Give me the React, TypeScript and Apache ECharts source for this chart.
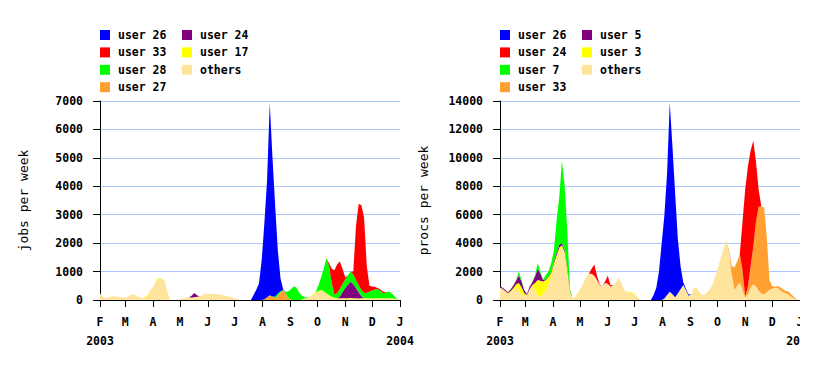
import React, { useEffect, useRef } from "react";
import * as echarts from "echarts";

const MONO = '"DejaVu Sans Mono", "Liberation Mono", monospace';
const DAY_MS = 86400000;
const FIRST_DAY = Date.UTC(2003, 1, 1);
const TOTAL_DAYS = 335; // 2003-02-01 .. 2004-01-01
const STEP_DAYS = 3;
const SAMPLES = 112;
const dayCategories = Array.from({ length: TOTAL_DAYS }, (_, d) =>
  new Date(FIRST_DAY + d * DAY_MS).toISOString().slice(0, 10)
);

const monthStartDays = [0, 28, 59, 89, 120, 150, 181, 212, 242, 273, 303, 334];
const monthLabels = ["F", "M", "A", "M", "J", "J", "A", "S", "O", "N", "D", "J"];
const yearLabels = ["2003", "", "", "", "", "", "", "", "", "", "", "2004"];

// ---------- left panel: jobs per week (3-day samples from 2003-02-01) ----------
const leftOthers = [
  230, 120, 60, 90, 120, 130, 120, 110, 95, 85,
  90, 160, 210, 170, 130, 90, 60, 90, 180, 380,
  500, 680, 740, 760, 680, 300, 0, 0, 0, 20,
  40, 70, 80, 85, 90, 100, 110, 120, 170, 210,
  215, 215, 215, 210, 200, 180, 160, 140, 120, 100,
  60, 20, 0, 0, 0, 0, 0, 0, 0, 0,
  0, 0, 0, 0, 0, 0, 0, 0, 0, 0,
  0, 0, 0, 0, 0, 20, 50, 90, 130, 180,
  230, 290, 320, 280, 210, 150, 80, 50, 40, 45,
  40, 35, 40, 50, 45, 40, 35, 40, 45, 40,
  40, 35, 40, 45, 40, 40, 35, 40, 40, 35,
  20, 0,
];
const leftUser17: [number, number[]][] = [
  [17, [40, 30]],
  [21, [40, 30]],
  [79, [30, 30, 30, 35, 30, 30, 25, 30, 25, 20, 20, 20, 25, 20, 20, 20, 20, 20, 20, 20, 20, 20, 20, 20, 20, 20, 20, 20, 20, 20, 20, 10]],
];
const leftUser24: [number, number[]][] = [
  [34, [60, 150, 60]],
  [89, [60, 220, 360, 480, 570, 500, 360, 220, 70]],
];
const leftUser27: [number, number[]][] = [[61, [30, 100, 170, 120, 60, 150, 270, 350, 220, 60]]];
const leftUser28: [number, number[]][] = [[65, [
  60, 80, 40, 0, 60, 250, 400, 480, 420, 250,
  130, 50, 10, 0, 0, 0, 180, 430, 790, 1230,
  1020, 490, 120, 175, 260, 280, 300, 330, 350, 340,
  280, 240, 230, 190, 190, 240, 280, 310, 320, 270,
  180, 200, 240, 200, 100, 20,
]]];
const leftUser33: [number, number[]][] = [[85, [
  100, 500, 850, 1015, 970, 540, 80, 0, 0, 100,
  1900, 2860, 2980, 2650, 950, 200, 140, 100, 40, 50, 60, 20,
]]];
const leftUser26: [number, number[]][] = [[57, [180, 360, 580, 1400, 2670, 4100, 6750, 4900, 3200, 1500, 450, 20]]];

// ---------- right panel: procs per week ----------
const rightOthers = [
  900, 780, 600, 440, 550, 700, 850, 700, 400, 300,
  330, 700, 1000, 700, 300, 250, 400, 700, 1100, 1600,
  2300, 2900, 3500, 3700, 3200, 1800, 400, 100, 250, 560,
  850, 1200, 1600, 1850, 1850, 1700, 1400, 1050, 950, 1200,
  1150, 950, 1050, 1250, 1550, 1250, 700, 560, 520, 480,
  400, 150, 0, 0, 0, 0, 0, 0, 0, 0,
  0, 100, 350, 580, 400, 200, 450, 750, 1050, 700,
  300, 400, 900, 850, 550, 350, 400, 550, 800, 1150,
  1700, 2350, 3000, 3650, 4200, 3300, 1800, 700, 1000, 1250,
  700, 150, 400, 850, 1100, 950, 650, 450, 400, 550,
  700, 800, 870, 850, 700, 550, 480, 380, 250, 120,
  20, 0,
];
const rightUser3: [number, number[]][] = [
  [2, [20, 40, 80, 150, 250, 500, 500, 200, 30, 50, 50, 500, 1100, 1100, 900, 700, 500, 300, 250, 250, 200, 150, 200, 300, 100]],
  [47, [30, 50, 60, 60, 40]],
];
const rightUser5: [number, number[]][] = [[0, [85, 90, 80, 60, 120, 180, 270, 550, 400, 180, 60, 180, 200, 450, 800, 500, 100, 60, 50, 80, 120, 200, 200, 150, 150, 150, 50]]];
const rightUser33: [number, number[]][] = [[85, [200, 600, 1600, 1700, 2000, 1400, 100, 540, 1500, 2650, 4560, 5920, 6120, 6120, 3900, 700, 185, 70, 130, 190, 200, 150, 210, 170, 115, 30]]];
const rightUser7: [number, number[]][] = [[4, [20, 25, 30, 250, 100, 20, 0, 10, 40, 100, 400, 150, 50, 300, 350, 600, 830, 2250, 3370, 5800, 4450, 2450, 150]]];
const rightUser24: [number, number[]][] = [
  [34, [350, 800, 300, 50, 0, 100, 550, 100]],
  [90, [3400, 7550, 8460, 8150, 7450, 4220, 1170]],
];
const rightUser26: [number, number[]][] = [[57, [350, 870, 2000, 3990, 5850, 8550, 13300, 10400, 7300, 3850, 1650, 200, 100, 80]]];

function place(segments: [number, number[]][]): number[] {
  const out = new Array(SAMPLES).fill(0);
  segments.forEach(([start, vals]) => vals.forEach((v, k) => { out[start + k] = v; }));
  return out;
}

type SeriesDef = { name: string; color: string; values: number[] };
type PanelCfg = {
  gridLeft: number;
  yMax: number;
  yInterval: number;
  yName: string;
  col1: string[];
  col2: string[];
  stack: SeriesDef[]; // bottom to top
};

const BLUE = "#0000ff", RED = "#ff0000", GREEN = "#00ff00", ORANGE = "#ffa030",
  PURPLE = "#800080", YELLOW = "#ffff00", OTHERS = "#ffe49e";

const leftCfg: PanelCfg = {
  gridLeft: 100, yMax: 7000, yInterval: 1000, yName: "jobs per week",
  col1: ["user 26", "user 33", "user 28", "user 27"],
  col2: ["user 24", "user 17", "others"],
  stack: [
    { name: "others", color: OTHERS, values: leftOthers },
    { name: "user 17", color: YELLOW, values: place(leftUser17) },
    { name: "user 24", color: PURPLE, values: place(leftUser24) },
    { name: "user 27", color: ORANGE, values: place(leftUser27) },
    { name: "user 28", color: GREEN, values: place(leftUser28) },
    { name: "user 33", color: RED, values: place(leftUser33) },
    { name: "user 26", color: BLUE, values: place(leftUser26) },
  ],
};

const rightCfg: PanelCfg = {
  gridLeft: 90, yMax: 14000, yInterval: 2000, yName: "procs per week",
  col1: ["user 26", "user 24", "user 7", "user 33"],
  col2: ["user 5", "user 3", "others"],
  stack: [
    { name: "others", color: OTHERS, values: rightOthers },
    { name: "user 3", color: YELLOW, values: place(rightUser3) },
    { name: "user 5", color: PURPLE, values: place(rightUser5) },
    { name: "user 33", color: ORANGE, values: place(rightUser33) },
    { name: "user 7", color: GREEN, values: place(rightUser7) },
    { name: "user 24", color: RED, values: place(rightUser24) },
    { name: "user 26", color: BLUE, values: place(rightUser26) },
  ],
};

function legendOf(data: string[], left: number) {
  return {
    data,
    left,
    top: 29,
    orient: "vertical",
    icon: "rect",
    itemWidth: 10,
    itemHeight: 10,
    itemGap: 5.4,
    padding: 0,
    selectedMode: false,
    textStyle: {
      fontFamily: MONO, fontSize: 11.5, fontWeight: "bold", color: "#000",
      lineHeight: 12, padding: [0, 0, 0, 3],
    },
  };
}

const isMonthStart = (index: number) => monthStartDays.indexOf(index) >= 0;

function buildOption(cfg: PanelCfg) {
  return {
    animation: false,
    textStyle: { fontFamily: MONO },
    grid: {
      left: cfg.gridLeft, top: 101, width: 300, height: 199,
      containLabel: false, outerBoundsMode: "none",
    },
    legend: [legendOf(cfg.col1, cfg.gridLeft), legendOf(cfg.col2, cfg.gridLeft + 82)],
    xAxis: {
      type: "category",
      data: dayCategories,
      boundaryGap: false,
      axisLine: { show: true, lineStyle: { color: "#000", width: 1 } },
      axisTick: { show: true, interval: (index: number) => isMonthStart(index), length: 7, lineStyle: { color: "#000" } },
      axisLabel: {
        interval: (index: number) => isMonthStart(index),
        margin: 12,
        fontFamily: MONO, fontSize: 11.5, fontWeight: "bold", color: "#000", lineHeight: 19,
        formatter: (_value: string, index: number) => {
          const idx = monthStartDays.indexOf(index);
          if (idx < 0) return "";
          return yearLabels[idx] ? monthLabels[idx] + "\n" + yearLabels[idx] : monthLabels[idx];
        },
      },
      splitLine: { show: false },
    },
    yAxis: {
      type: "value",
      min: 0,
      max: cfg.yMax,
      interval: cfg.yInterval,
      name: cfg.yName,
      nameLocation: "middle",
      nameRotate: 90,
      nameGap: 70,
      nameTextStyle: { fontFamily: MONO, fontSize: 13, fontWeight: "normal", color: "#000" },
      axisLine: { show: true, lineStyle: { color: "#000", width: 1 } },
      axisTick: { show: true, length: 7, lineStyle: { color: "#000" } },
      axisLabel: {
        margin: 17, fontFamily: MONO, fontSize: 11.5, fontWeight: "bold", color: "#000",
        formatter: (v: number) => String(v),
      },
      splitLine: { show: true, lineStyle: { color: "#aac8ff", width: 1 } },
    },
    series: cfg.stack.map((s) => ({
      name: s.name,
      type: "line",
      stack: "total",
      symbol: "none",
      showSymbol: false,
      color: s.color,
      lineStyle: { width: 0, color: s.color },
      areaStyle: { color: s.color, opacity: 1 },
      itemStyle: { color: s.color },
      data: s.values.map((v, i) => [i * STEP_DAYS, v]),
    })),
  };
}

function Panel({ cfg, left, width }: { cfg: PanelCfg; left: number; width: number }) {
  const ref = useRef<HTMLDivElement>(null);
  useEffect(() => {
    if (!ref.current) return;
    const chart = echarts.init(ref.current, undefined, { renderer: "svg" });
    chart.setOption(buildOption(cfg) as any);
    return () => chart.dispose();
  }, [cfg]);
  return (
    <div
      ref={ref}
      style={{ position: "absolute", left, top: 0, width, height: 366, overflow: "hidden" }}
    />
  );
}

export default function App() {
  return (
    <div style={{ position: "absolute", left: 0, top: 0, width: 840, height: 366, background: "#fff", overflow: "hidden" }}>
      <Panel cfg={leftCfg} left={0} width={420} />
      <Panel cfg={rightCfg} left={410} width={390} />
    </div>
  );
}
